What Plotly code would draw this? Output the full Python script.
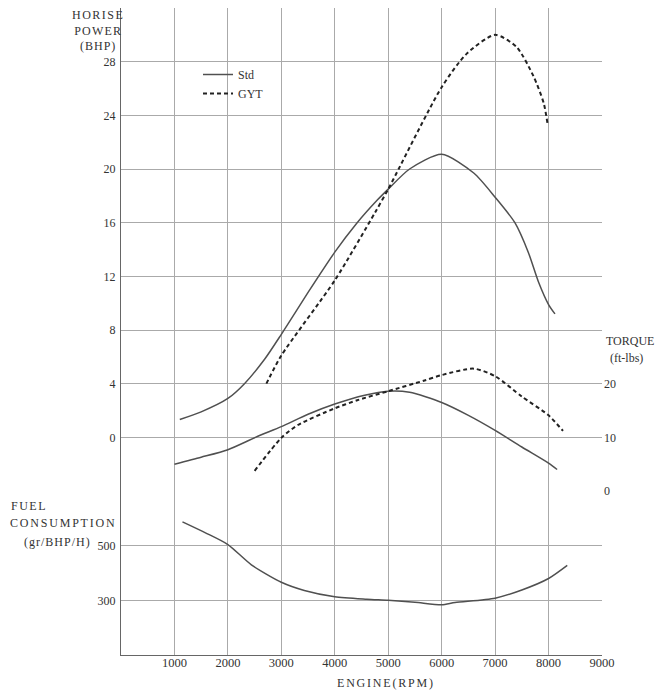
import plotly.graph_objects as go

# ---------------- data ----------------
rpm_hp_std = [1100, 1500, 2000, 2310, 2690, 3000, 3500, 4000, 4400, 4800, 5000,
              5400, 6000, 6600, 7000, 7370, 7620, 7810, 8000, 8120]
hp_std = [1.33, 1.9, 2.9, 4.0, 5.84, 7.68, 10.8, 13.8, 15.9, 17.7, 18.5,
          20.0, 21.1, 19.7, 17.9, 16.0, 13.8, 11.6, 9.9, 9.2]

rpm_hp_gyt = [2720, 3000, 4000, 4760, 5000, 6000, 6470, 7000, 7400, 7720, 7910, 7980]
hp_gyt = [4.0, 6.1, 11.7, 16.8, 18.5, 26.1, 28.6, 30.0, 29.1, 26.9, 24.9, 23.4]

rpm_tq_std = [1000, 1500, 2000, 2560, 3000, 3500, 4000, 4560, 5000, 5400, 6000,
              6500, 7000, 7500, 8000, 8160]
tq_std = [5.0, 6.3, 7.7, 10.2, 12.0, 14.3, 16.2, 17.85, 18.6, 18.4, 16.5,
          14.1, 11.3, 8.2, 5.2, 4.0]

rpm_tq_gyt = [2500, 3000, 3310, 4000, 4420, 5000, 5680, 6000, 6600, 7000, 7500, 8000, 8270]
tq_gyt = [3.75, 9.9, 12.3, 15.4, 16.9, 18.6, 20.6, 21.6, 22.8, 21.4, 17.6, 14.1, 11.2]

rpm_fuel = [1150, 1580, 2000, 2440, 3000, 3430, 4000, 4600, 5000, 5500, 6000,
            6250, 7000, 7500, 8000, 8350]
fuel = [587, 547, 504, 430, 366, 336, 313, 304, 300, 293, 284,
        292, 308, 338, 380, 428]

x_ticks = [1000, 2000, 3000, 4000, 5000, 6000, 7000, 8000, 9000]
hp_ticks = [-4, 0, 4, 8, 12, 16, 20, 24, 28, 32]
hp_labels = ["", "0", "4", "8", "12", "16", "20", "24", "28", ""]
tq_ticks = [0, 10, 20]
fuel_ticks = [100, 300, 500, 700]
fuel_labels = ["", "300", "500", ""]

# ---------------- styling ----------------
FONT = "Liberation Serif"
TXT = "#333333"
GRID = "#aaaaaa"
AXIS = "#666666"
SOLID = dict(color="#505050", width=1.5, shape="spline", smoothing=0.7)
DASH = dict(color="#222222", width=2, dash="4px,3px", shape="spline", smoothing=0.7)

# the page shows the figure offset by the body margin (8 px)
OFF = 8
W, H = 665 - OFF, 696 - OFF
L, R, T, B = 121 - OFF, 63, 8 - OFF, 41
PW, PH = W - L - R, H - T - B
split = 164 / PH


def px(x):
    return (x - OFF - L) / PW


def py(y):
    return (H - B - (y - OFF)) / PH


def spaced(s, sp):
    return '<span style="letter-spacing:%spx">%s</span>' % (sp, s)


fig = go.Figure()
fig.add_trace(go.Scatter(x=rpm_hp_std, y=hp_std, mode="lines", name="Std",
                         line=SOLID, yaxis="y"))
fig.add_trace(go.Scatter(x=rpm_hp_gyt, y=hp_gyt, mode="lines", name="GYT",
                         line=DASH, yaxis="y"))
fig.add_trace(go.Scatter(x=rpm_tq_std, y=tq_std, mode="lines", showlegend=False,
                         line=SOLID, yaxis="y2"))
fig.add_trace(go.Scatter(x=rpm_tq_gyt, y=tq_gyt, mode="lines", showlegend=False,
                         line=DASH, yaxis="y2"))
fig.add_trace(go.Scatter(x=rpm_fuel, y=fuel, mode="lines", showlegend=False,
                         line=SOLID, yaxis="y3"))

tickfont = dict(family=FONT, size=12, color=TXT)

fig.update_layout(
    width=W, height=H,
    margin=dict(l=L, r=R, t=T, b=B, autoexpand=False),
    paper_bgcolor="white", plot_bgcolor="white",
    font=dict(family=FONT, color=TXT),
    xaxis=dict(range=[0, 9000], tickvals=x_ticks, showgrid=True, gridcolor=GRID,
               gridwidth=1, showline=True, linecolor=AXIS, linewidth=1.2,
               zeroline=False, ticks="", anchor="y3",
               tickfont=dict(family=FONT, size=12.5, color=TXT),
               ticklabelstandoff=-4),
    yaxis=dict(domain=[split, 1], range=[-4, 32], tickvals=hp_ticks, ticktext=hp_labels,
               showgrid=True, gridcolor=GRID, gridwidth=1, showline=True,
               linecolor=AXIS, linewidth=1.2, zeroline=False, ticks="",
               anchor="x", tickfont=tickfont, ticklabelstandoff=2),
    yaxis2=dict(overlaying="y", side="right", range=[0, 90], tickvals=tq_ticks,
                showgrid=False, zeroline=False, showline=False, ticks="",
                anchor="x", tickfont=tickfont, ticklabelstandoff=1),
    yaxis3=dict(domain=[0, split], range=[100, 700], tickvals=fuel_ticks,
                ticktext=fuel_labels, showgrid=True, gridcolor=GRID, gridwidth=1,
                showline=True, linecolor=AXIS, linewidth=1.2, zeroline=False,
                ticks="", anchor="x", tickfont=tickfont, ticklabelstandoff=2),
    legend=dict(x=px(198), y=py(60), xanchor="left", yanchor="top",
                bgcolor="rgba(0,0,0,0)", itemwidth=30, tracegroupgap=0,
                font=dict(family=FONT, size=12, color=TXT)),
    showlegend=True,
)

ann = dict(xref="paper", yref="paper", showarrow=False,
           font=dict(family=FONT, size=12, color=TXT))
fig.add_annotation(text=spaced("HORISE", 1.5) + "<br>" + spaced("POWER", 1.2) + "<br>"
                   + spaced("(BHP)", 1),
                   x=px(98), y=py(6), xanchor="center", yanchor="top",
                   align="center", **ann)
fig.add_annotation(text=spaced("FUEL", 1.5), x=px(9), y=py(506), xanchor="left",
                   yanchor="middle", **ann)
fig.add_annotation(text=spaced("CONSUMPTION", 1.8), x=px(8), y=py(523), xanchor="left",
                   yanchor="middle", **ann)
fig.add_annotation(text=spaced("(gr/BHP/H)", 1), x=px(57), y=py(542), xanchor="center",
                   yanchor="middle", **ann)
fig.add_annotation(text="TORQUE", x=px(604), y=py(341), xanchor="left",
                   yanchor="middle", **ann)
fig.add_annotation(text="(ft-lbs)", x=px(608), y=py(358), xanchor="left",
                   yanchor="middle", **ann)
fig.add_annotation(text=spaced("ENGINE(RPM)", 1.8), x=px(386), y=py(683),
                   xanchor="center", yanchor="middle", **ann)

fig.write_html("out.html")
